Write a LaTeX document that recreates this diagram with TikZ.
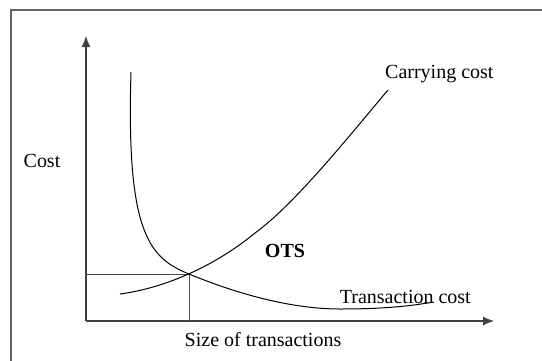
\documentclass[tikz,border=0pt]{standalone}
\usepackage{fontspec}
\setmainfont{Liberation Serif}
\usetikzlibrary{positioning, arrows.meta, calc}

\begin{document}
\begin{tikzpicture}[
        x=1pt, y=-1pt,
        lbl/.style={font=\fontsize{20}{22}\selectfont, inner sep=0pt},
        axis/.style={-{Latex[length=11pt, width=9pt]}, black!75, line width=1.1pt},
        guide/.style={black!70, line width=0.9pt},
        curve/.style={black, line width=1pt},
    ]
        \useasboundingbox (0,0) rectangle (542,360);
        % frame (cut off at right and bottom)
        \draw[black!60, line width=1.3pt] (11,362) -- (11,10) -- (544,10);

        % axes
        \coordinate (O) at (86,321);
        \coordinate (ytip) at (86,36);
        \coordinate (xtip) at (494,321);
        \draw[axis] (O) -- (ytip);
        \draw[axis] (O) -- (xtip);

        % optimum point
        \coordinate (ots) at (189,274);
        \coordinate (oy) at (86,274);
        \coordinate (ox) at (189,321);
        \draw[guide] (oy) -- (ots);
        \draw[guide] (ots) -- (ox);

        % transaction cost curve
        \draw[curve] (131,72) .. controls (126,235) and (150,258) .. (ots)
            .. controls (235,293) and (290,309) .. (340,309)
            .. controls (385,309) and (410,306) .. (434,302);
        % carrying cost curve
        \draw[curve] (120,294) .. controls (165,288) and (215,266) .. (255,233)
            .. controls (295,204) and (350,135) .. (388,90);

        % labels
        \node[lbl, anchor=west] (carry) at (385,74) {Carrying cost};
        \node[lbl, anchor=base east] (trans) at (471,303) {Transaction cost};
        \node[lbl] (size) at (263,340) {Size of transactions};
        \node[lbl] (cost) at (42,161) {Cost};
        \node[lbl, font=\fontsize{20}{22}\selectfont\bfseries] (otslbl) at (285,251) {OTS};
    \end{tikzpicture}
\end{document}
